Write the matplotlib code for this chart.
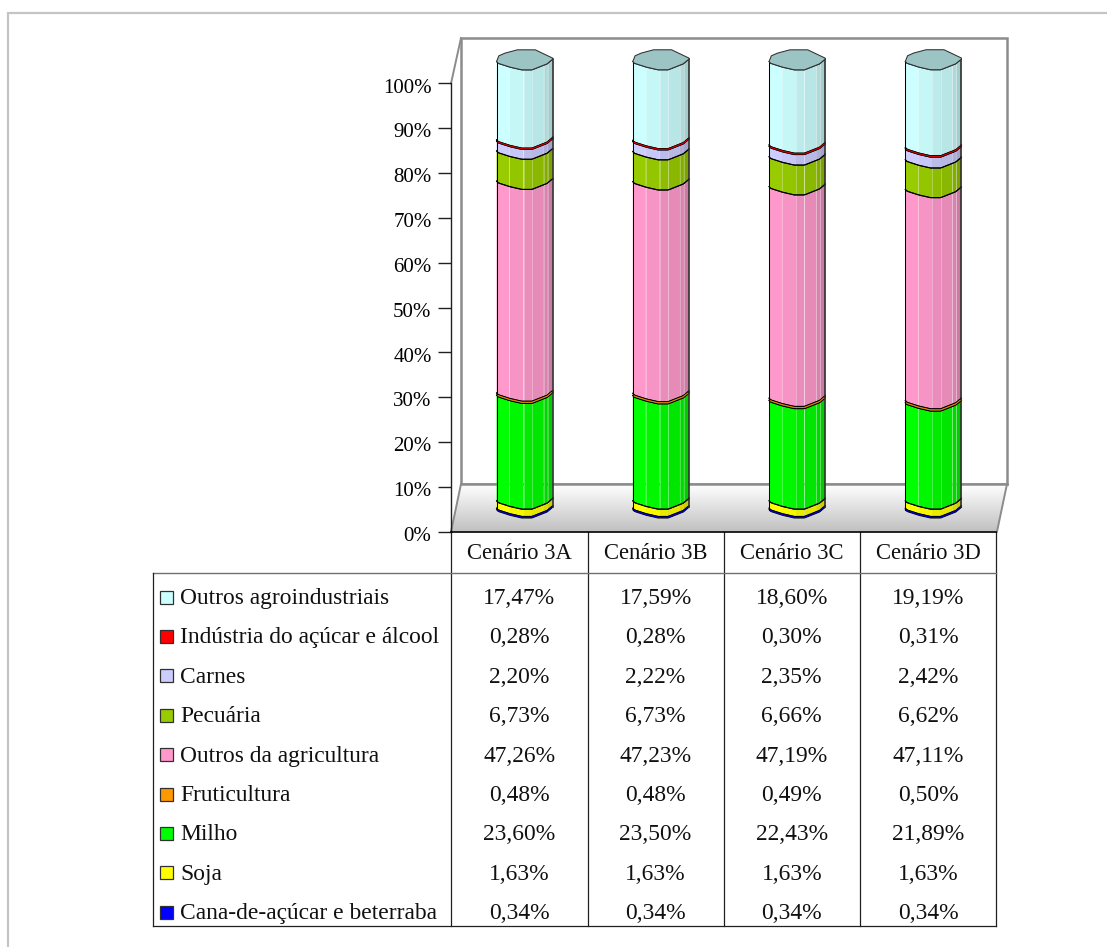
import numpy as np
import matplotlib
matplotlib.use('Agg')
import matplotlib.pyplot as plt
from matplotlib.patches import Polygon, Rectangle
from matplotlib.colors import to_rgb
from matplotlib.transforms import ScaledTranslation

W, H = 1107, 947

cenarios = ['Cenário 3A', 'Cenário 3B', 'Cenário 3C', 'Cenário 3D']

# from bottom to top of the stack
nomes = ['Cana-de-açúcar e beterraba', 'Soja', 'Milho', 'Fruticultura', 'Outros da agricultura',
         'Pecuária', 'Carnes', 'Indústria do açúcar e álcool', 'Outros agroindustriais']
cana = [0.34, 0.34, 0.34, 0.34]
soja = [1.63, 1.63, 1.63, 1.63]
milho = [23.60, 23.50, 22.43, 21.89]
fruti = [0.48, 0.48, 0.49, 0.50]
outros_agri = [47.26, 47.23, 47.19, 47.11]
pecuaria = [6.73, 6.73, 6.66, 6.62]
carnes = [2.20, 2.22, 2.35, 2.42]
industria = [0.28, 0.28, 0.30, 0.31]
outros_agro = [17.47, 17.59, 18.60, 19.19]
cores = ['#0000ff', '#ffff00', '#00ff00', '#ff9900', '#ff99cc', '#99cc00', '#ccccff', '#ff0000', '#ccffff']

series = [cana, soja, milho, fruti, outros_agri, pecuaria, carnes, industria, outros_agro]

plt.rcParams['font.family'] = ['Liberation Serif', 'DejaVu Serif']
fig = plt.figure(figsize=(W / 100, H / 100), dpi=100)

# overlay in pixel coordinates for the frame, the 3D box and the table
bg = fig.add_axes([0, 0, 1, 1])
bg.set_xlim(0, W)
bg.set_ylim(H, 0)
bg.axis('off')
# the frame only shows on the top and the left
bg.plot([8, 8, W], [H, 13, 13], color='#c4c4c4', lw=1.6, solid_joinstyle='miter')

# back wall, side wall, floor
cinza = '#8c8c8c'
bg.add_patch(Rectangle((461, 38), 546, 446, fc='white', ec=cinza, lw=1.8, zorder=2))
grad = np.linspace(1, 0.75, 64).reshape(-1, 1)
piso = bg.imshow(grad, cmap='gray', vmin=0, vmax=1, extent=(451, 1007, 531.7, 484), aspect='auto', zorder=2.1)
piso.set_clip_path(Polygon([(451, 531.7), (461, 484), (1007, 484), (997, 531.7)], transform=bg.transData))
bg.set_xlim(0, W)
bg.set_ylim(H, 0)
bg.plot([461, 1007], [484, 484], color=cinza, lw=1.8, zorder=2.2)
bg.plot([451, 461], [83.5, 38], color=cinza, lw=1.4, zorder=2.2)
bg.plot([451, 461], [531.7, 484], color=cinza, lw=1.4, zorder=2.2)
bg.plot([997, 1007], [531.7, 484], color=cinza, lw=1.4, zorder=2.2)

# main axes: y in percent, x in categories
x0, x1, y_top, y_bot = 451, 1007, 38, 531.7
ppu = 4.482
ax = fig.add_axes([x0 / W, 1 - y_bot / H, (x1 - x0) / W, (y_bot - y_top) / H])
ax.patch.set_alpha(0)
ax.set_ylim(0, (y_bot - y_top) / ppu)
ax.set_xlim(-0.5, 3.5 + 11 / 136)
for s in ['top', 'right', 'bottom']:
    ax.spines[s].set_visible(False)
ax.spines['left'].set_bounds(0, 100)
ax.spines['left'].set_linewidth(1.0)
ax.spines['left'].set_color('#202020')
ax.set_xticks([])
ax.set_yticks(np.arange(0, 101, 10))
ax.set_yticklabels([f'{v}%' for v in range(0, 101, 10)], fontsize=15)
ax.tick_params(axis='y', length=9.5, width=1.0, pad=4.5, color='#202020')
for lbl in ax.get_yticklabels():
    lbl.set_transform(lbl.get_transform() + ScaledTranslation(0, -1.5 / 72, fig.dpi_scale_trans))

# cylinder outline: x fraction across the bar, vertical offset in pixels
arco_x = np.array([0, 0.03, 0.24, 0.45, 0.63, 0.9, 1.0])
arco_dy = np.array([1.7, 3.5, 7.3, 10, 10, 4, -0.7])
topo_x = np.array([1.0, 0.69, 0.37, 0.15, 0.04, 0])
topo_dy = np.array([-1.7, -10, -10, -6.7, -4, 1.7])
faixas = [0, 0.23, 0.48, 0.63, 0.84, 0.91, 1.0]
tons = [1.0, 0.97, 0.92, 0.9, 0.85, 0.8]
deslocamento = 5.29
meia = 28 / 136
lw_borda = 0.75


def arco(frac):
    return np.interp(frac, arco_x, arco_dy) / ppu


for i in range(len(cenarios)):
    xc = i + 5.5 / 136
    base = 0.0
    for nome, vals, cor in zip(nomes, series, cores):
        topo = base + vals[i]
        rgb = np.array(to_rgb(cor))
        # shaded vertical facets
        for k in range(len(tons)):
            fr = np.array([faixas[k], *arco_x[(arco_x > faixas[k]) & (arco_x < faixas[k + 1])], faixas[k + 1]])
            xs = xc - meia + 2 * meia * fr
            y_b = base + deslocamento - arco(fr)
            y_t = topo + deslocamento - arco(fr)
            pts = np.r_[np.c_[xs, y_b], np.c_[xs, y_t][::-1]]
            ax.add_patch(Polygon(pts, fc=rgb * tons[k], ec='none', zorder=3))
            if vals[i] > 5 and k > 0:
                ax.plot([xs[0]] * 2, [y_b[0], y_t[0]], color='white', alpha=0.3, lw=0.7, zorder=3.1)
        fr = np.linspace(0, 1, 41)
        xs = xc - meia + 2 * meia * fr
        ax.plot(xs, base + deslocamento - arco(fr), color='black', lw=lw_borda, zorder=3.5)
        ax.plot(xs, topo + deslocamento - arco(fr), color='black', lw=lw_borda, zorder=3.5)
        ax.plot([xs[0]] * 2, [base + deslocamento - arco(0), topo + deslocamento - arco(0)], color='black', lw=lw_borda, zorder=3.5)
        ax.plot([xs[-1]] * 2, [base + deslocamento - arco(1), topo + deslocamento - arco(1)], color='#303030', lw=1.2, zorder=3.5)
        # very thin layers would vanish under their outlines
        if vals[i] < 0.6:
            meio = (base + topo) / 2
            ax.plot(xs[1:-1], meio + deslocamento - arco(fr[1:-1]), color=rgb * 0.85, lw=0.8, zorder=3.6)
        base = topo
    # top cap
    fr_cima = np.r_[arco_x, topo_x]
    dy_cima = np.r_[arco_dy, topo_dy]
    pts = np.c_[xc - meia + 2 * meia * fr_cima, base + deslocamento - dy_cima / ppu]
    ax.add_patch(Polygon(pts, fc=np.array(to_rgb('#ccffff')) * 0.77, ec='#303030', lw=lw_borda, zorder=4))

# table
fg = fig.add_axes([0, 0, 1, 1])
fg.set_xlim(0, W)
fg.set_ylim(H, 0)
fg.axis('off')
fg.patch.set_alpha(0)
colunas = [451, 587.7, 723.5, 860, 996]
y_cab, y_lin, y_fim = 531.7, 573, 926
fs_cab = 16.3
fs_tab = 16.9
for xv in colunas:
    fg.plot([xv, xv], [y_cab, y_fim], color='#202020', lw=0.9)
fg.plot([451, 996], [y_cab, y_cab], color='black', lw=1.2)
fg.plot([152.5, 996], [y_lin, y_lin], color='#707070', lw=1.0)
fg.plot([152.5, 996], [y_fim, y_fim], color='#202020', lw=0.9)
fg.plot([152.5, 152.5], [y_lin, y_fim], color='#202020', lw=0.9)
for j, c in enumerate(cenarios):
    fg.text((colunas[j] + colunas[j + 1]) / 2, 553.5, c, ha='center', va='center', fontsize=fs_cab, color='#101010')

for lin, idx in enumerate(range(len(nomes) - 1, -1, -1)):
    yy = 597 + 39.4 * lin
    fg.add_patch(Rectangle((159.5, yy - 6.5), 13, 13, fc=cores[idx], ec='#303030', lw=0.9))
    fg.text(180, yy + 1.5, nomes[idx], ha='left', va='center', fontsize=fs_tab, color='#101010')
    for j in range(len(cenarios)):
        txt = f'{series[idx][j]:.2f}%'.replace('.', ',')
        fg.text((colunas[j] + colunas[j + 1]) / 2, yy + 1.5, txt, ha='center', va='center', fontsize=fs_tab, color='#101010')

fig.savefig('out.png', dpi=100)
